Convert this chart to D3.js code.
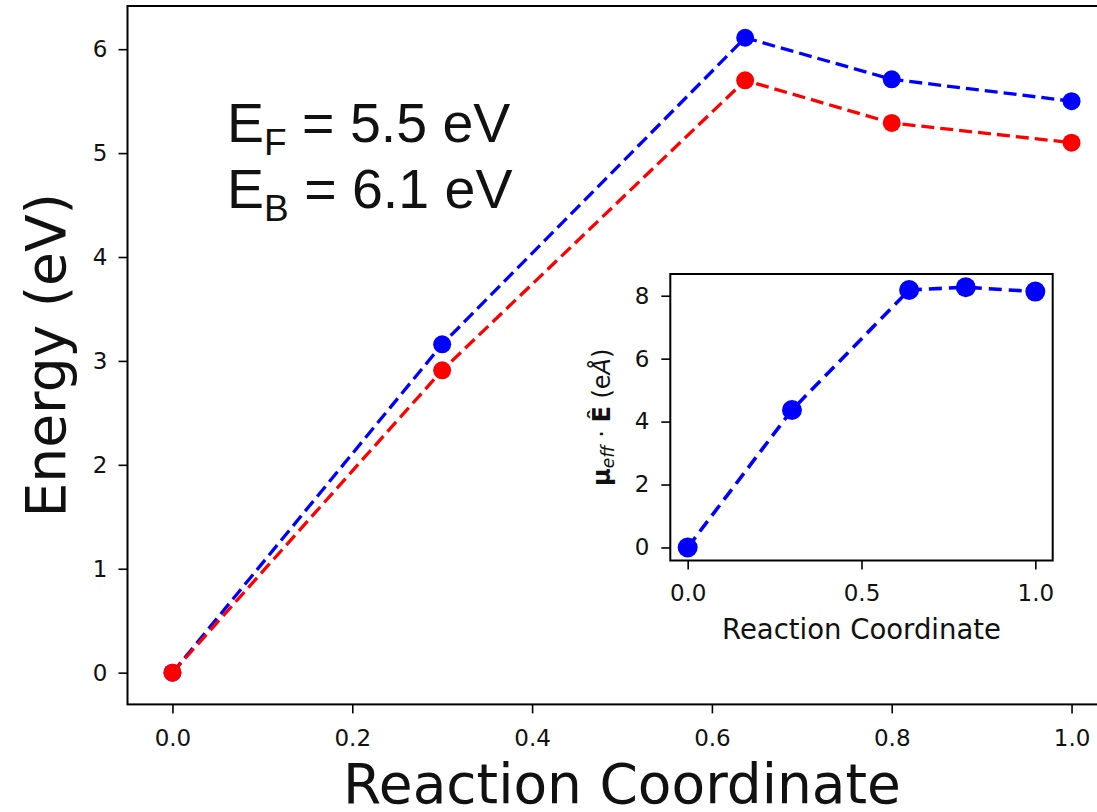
<!DOCTYPE html>
<html>
<head>
<meta charset="utf-8">
<script src="https://cdn.jsdelivr.net/npm/d3@7"></script>
<style>
  html, body { margin: 0; padding: 0; background: #fff; overflow: hidden; }
  svg { display: block; }
  text { fill: #111; }
</style>
</head>
<body>
<svg id="chart" width="1097" height="812"></svg>
<script>
// Reaction coordinate of each image along the path
const coords = [0.0, 0.3, 0.637, 0.8, 1.0];
// Energy profile in the backward direction (blue) and forward direction (red), eV
const energyBlue = [0.0, 3.16, 6.11, 5.71, 5.50];
const energyRed = [0.0, 2.91, 5.70, 5.29, 5.10];
// Effective dipole projected on the field direction, eÅ
const dipole = [0.0, 4.37, 8.18, 8.27, 8.13];

const mainXTicks = [0.0, 0.2, 0.4, 0.6, 0.8, 1.0];
const mainYTicks = [0, 1, 2, 3, 4, 5, 6];
const insetXTicks = [0.0, 0.5, 1.0];
const insetYTicks = [0, 2, 4, 6, 8];

const svg = d3.select("#chart");
const tickFont = "'DejaVu Sans', sans-serif";

function styleAxis(g, fontSize) {
  g.attr("font-family", tickFont).attr("font-size", fontSize);
  g.select(".domain").remove();
  g.selectAll(".tick line").attr("stroke", "#000").attr("stroke-width", 1.6);
  g.selectAll(".tick text").attr("fill", "#222");
}

function drawSeries(g, x, y, xs, ys, color, lw, dash, r) {
  const pts = xs.map((v, i) => [v, ys[i]]);
  g.append("path")
    .datum(pts)
    .attr("fill", "none")
    .attr("stroke", color)
    .attr("stroke-width", lw)
    .attr("stroke-dasharray", dash)
    .attr("d", d3.line().x(d => x(d[0])).y(d => y(d[1])));
  g.selectAll(null)
    .data(pts)
    .enter().append("circle")
    .attr("cx", d => x(d[0]))
    .attr("cy", d => y(d[1]))
    .attr("r", r)
    .attr("fill", color);
}

// ---------- main axes ----------
const x = d3.scaleLinear().domain([-0.05, 1.05]).range([127.5, 1116.5]);
const y = d3.scaleLinear().domain([-0.3055, 6.4155]).range([704.4, 6.0]);

svg.append("g")
  .attr("transform", `translate(0,${y.range()[0]})`)
  .call(d3.axisBottom(x).tickValues(mainXTicks).tickFormat(d3.format(".1f")).tickSize(9).tickPadding(16))
  .call(g => styleAxis(g, 23));

svg.append("g")
  .attr("transform", `translate(${x.range()[0]},0)`)
  .call(d3.axisLeft(y).tickValues(mainYTicks).tickFormat(d3.format("d")).tickSize(9).tickPadding(11))
  .call(g => styleAxis(g, 23));

const plot = svg.append("g");
drawSeries(plot, x, y, coords, energyBlue, "#0000ff", 3.3, "13,6", 9);
drawSeries(plot, x, y, coords, energyRed, "#ff0000", 3.3, "13,6", 9);

// frame
svg.append("rect")
  .attr("x", x.range()[0]).attr("y", y.range()[1])
  .attr("width", x.range()[1] - x.range()[0])
  .attr("height", y.range()[0] - y.range()[1])
  .attr("fill", "none").attr("stroke", "#000").attr("stroke-width", 2);

// axis titles
svg.append("text")
  .attr("x", (x.range()[0] + x.range()[1]) / 2)
  .attr("y", 803)
  .attr("text-anchor", "middle")
  .attr("font-family", tickFont)
  .attr("font-size", 55)
  .text("Reaction Coordinate");

svg.append("text")
  .attr("transform", `translate(65,${(y.range()[0] + y.range()[1]) / 2}) rotate(-90)`)
  .attr("text-anchor", "middle")
  .attr("font-family", tickFont)
  .attr("font-size", 55)
  .text("Energy (eV)");

// barrier annotations
const annot = [
  { sub: "F", value: "5.5", y: 141.7 },
  { sub: "B", value: "6.1", y: 208.3 }
];
annot.forEach(a => {
  const t = svg.append("text")
    .attr("x", 227)
    .attr("y", a.y)
    .attr("font-family", "'Liberation Sans', Arial, sans-serif")
    .attr("font-size", 55.5);
  t.append("tspan").text("E");
  t.append("tspan").attr("font-size", 37).attr("dy", 13).text(a.sub);
  t.append("tspan").attr("dy", -13).text(` = ${a.value} eV`);
});

// ---------- inset axes ----------
const xi = d3.scaleLinear().domain([-0.05, 1.05]).range([670.3, 1052.7]);
const yi = d3.scaleLinear().domain([-0.414, 8.69]).range([560.5, 274]);

svg.append("rect")
  .attr("x", xi.range()[0]).attr("y", yi.range()[1])
  .attr("width", xi.range()[1] - xi.range()[0])
  .attr("height", yi.range()[0] - yi.range()[1])
  .attr("fill", "#fff");

svg.append("g")
  .attr("transform", `translate(0,${yi.range()[0]})`)
  .call(d3.axisBottom(xi).tickValues(insetXTicks).tickFormat(d3.format(".1f")).tickSize(9).tickPadding(15))
  .call(g => styleAxis(g, 23));

svg.append("g")
  .attr("transform", `translate(${xi.range()[0]},0)`)
  .call(d3.axisLeft(yi).tickValues(insetYTicks).tickFormat(d3.format("d")).tickSize(9).tickPadding(12))
  .call(g => styleAxis(g, 23));

const inset = svg.append("g");
drawSeries(inset, xi, yi, coords, dipole, "#0000ff", 3.6, "13,7", 10);

svg.append("rect")
  .attr("x", xi.range()[0]).attr("y", yi.range()[1])
  .attr("width", xi.range()[1] - xi.range()[0])
  .attr("height", yi.range()[0] - yi.range()[1])
  .attr("fill", "none").attr("stroke", "#000").attr("stroke-width", 2);

svg.append("text")
  .attr("x", (xi.range()[0] + xi.range()[1]) / 2)
  .attr("y", 639)
  .attr("text-anchor", "middle")
  .attr("font-family", tickFont)
  .attr("font-size", 27.5)
  .text("Reaction Coordinate");

const yl = svg.append("text")
  .attr("transform", `translate(610,${(yi.range()[0] + yi.range()[1]) / 2}) rotate(-90)`)
  .attr("text-anchor", "middle")
  .attr("font-family", tickFont)
  .attr("font-size", 24);
yl.append("tspan").attr("font-weight", "bold").text("\u03bc");
yl.append("tspan").attr("font-style", "italic").attr("font-size", 17).attr("dy", 4).text("eff");
yl.append("tspan").attr("dy", -4).text(" \u00b7 ");
yl.append("tspan").attr("font-weight", "bold").text("\u00ca");
yl.append("tspan").text(" (e");
yl.append("tspan").attr("font-style", "italic").text("\u00c5");
yl.append("tspan").text(")");
</script>
</body>
</html>
